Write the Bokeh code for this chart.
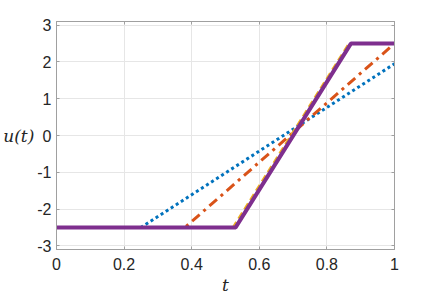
from bokeh.plotting import figure
from bokeh.models import LinearAxis, FixedTicker, Range1d
from bokeh.embed import file_html
from bokeh.resources import INLINE

# data
t_blue = [0.0, 0.25, 1.0]
u_blue = [-2.5, -2.5, 1.95]
t_orange = [0.0, 0.38, 1.0]
u_orange = [-2.5, -2.5, 2.5]
t_yellow = [0.0, 0.523, 0.866, 1.0]
u_yellow = [-2.5, -2.5, 2.5, 2.5]
t_purple = [0.0, 0.53, 0.871, 1.0]
u_purple = [-2.5, -2.5, 2.5, 2.5]

x_ticks = [0, 0.2, 0.4, 0.6, 0.8, 1]
x_tick_labels = {0: "0", 0.2: "0.2", 0.4: "0.4", 0.6: "0.6", 0.8: "0.8", 1: "1"}
y_ticks = [-3, -2, -1, 0, 1, 2, 3]
y_tick_labels = {v: str(v) for v in y_ticks}
x_label = "t"
y_label = "u(t)"

p = figure(width=428, height=298, output_backend="svg", toolbar_location=None,
           x_range=Range1d(0, 1), y_range=Range1d(-3.1, 3.1),
           min_border_left=56, min_border_right=34, min_border_top=21, min_border_bottom=49,
           x_axis_location=None, y_axis_location=None)
p.background_fill_color = "white"
p.border_fill_color = "white"
p.outline_line_color = "#a0a0a0"
p.outline_line_width = 1

FONT = "Liberation Sans"
AX = "#a0a0a0"

def style(ax, labels):
    ax.axis_line_color = AX
    ax.major_tick_line_color = AX
    ax.major_tick_in = 3
    ax.major_tick_out = 0
    ax.minor_tick_line_color = None
    ax.major_label_text_font = FONT
    ax.major_label_text_color = "#262626"
    ax.major_label_text_font_size = "16px"
    ax.axis_label_text_font = "DejaVu Serif"
    ax.axis_label_text_font_style = "italic"
    ax.axis_label_text_font_size = "17px"
    ax.axis_label_text_color = "#262626"
    if not labels:
        ax.major_label_text_color = None
        ax.major_label_standoff = 0

xb = LinearAxis(ticker=FixedTicker(ticks=x_ticks), major_label_overrides=x_tick_labels,
                axis_label=x_label)
style(xb, True)
xb.major_label_standoff = 8
xb.axis_label_standoff = 2
p.add_layout(xb, "below")
yl = LinearAxis(ticker=FixedTicker(ticks=y_ticks), major_label_overrides=y_tick_labels,
                axis_label=y_label)
style(yl, True)
yl.major_label_standoff = 5
yl.axis_label_standoff = 0
yl.axis_label_orientation = "horizontal"
p.add_layout(yl, "left")
xt = LinearAxis(ticker=FixedTicker(ticks=x_ticks))
style(xt, False)
p.add_layout(xt, "above")
yr = LinearAxis(ticker=FixedTicker(ticks=y_ticks))
style(yr, False)
p.add_layout(yr, "right")

p.xgrid.ticker = FixedTicker(ticks=x_ticks)
p.ygrid.ticker = FixedTicker(ticks=y_ticks)
p.grid.grid_line_color = "#e6e6e6"
p.grid.grid_line_width = 1

p.line(t_blue, u_blue, line_color="#0072BD", line_width=3, line_dash="3 3")
p.line(t_orange, u_orange, line_color="#D95319", line_width=3, line_dash="10 5 3 5")
p.line(t_yellow, u_yellow, line_color="#EDB120", line_width=3, line_dash="7 4")
p.line(t_purple, u_purple, line_color="#7E2F8E", line_width=4)

open("out.html", "w").write(file_html(p, INLINE))
